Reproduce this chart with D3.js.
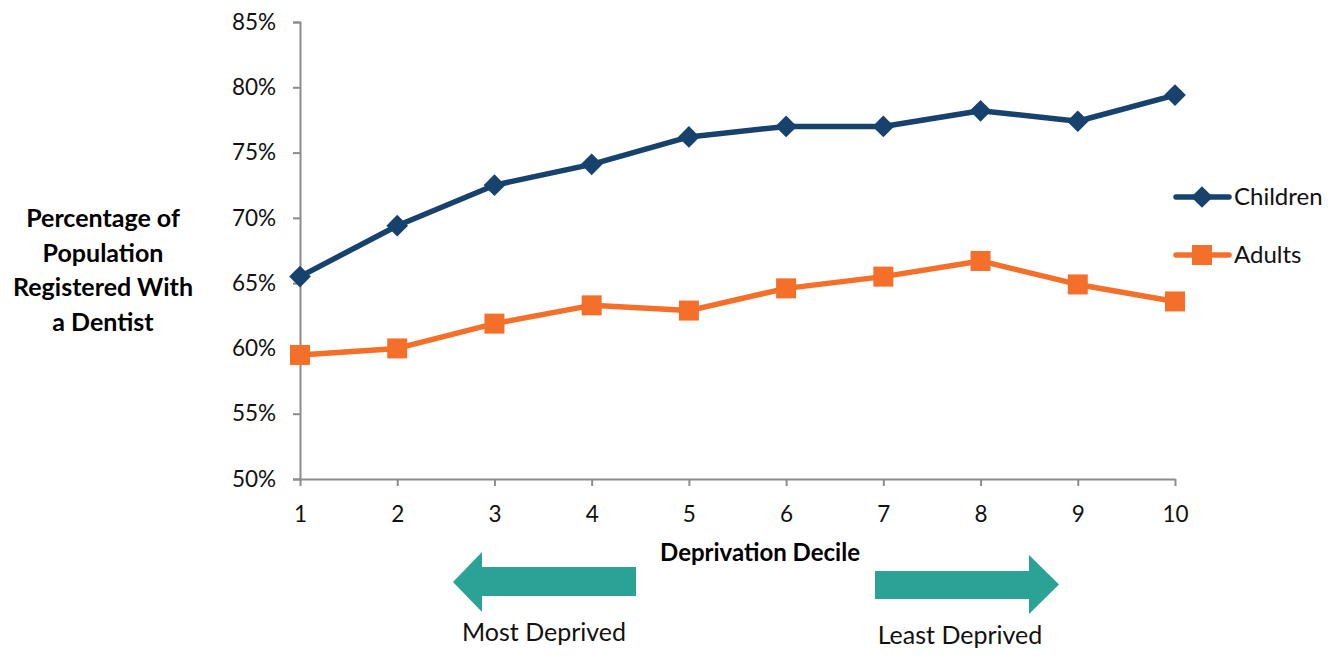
<!DOCTYPE html>
<html><head><meta charset="utf-8">
<script src="https://cdn.jsdelivr.net/npm/d3@7"></script>
<style>body{margin:0;background:#fff}svg{display:block}text{font-family:Lato,"Open Sans",sans-serif}</style>
</head><body><svg id="c" width="1341" height="671"></svg>
<script>
const deciles = [1,2,3,4,5,6,7,8,9,10];
const children = [65.5,69.4,72.5,74.1,76.2,77.0,77.0,78.2,77.4,79.4];
const adults = [59.5,60.0,61.9,63.3,62.9,64.6,65.5,66.7,64.9,63.6];
const yTicks = [50,55,60,65,70,75,80,85];
const seriesNames = ["Children","Adults"];

const svg = d3.select("#c");
const x = d3.scaleLinear().domain([1,10]).range([300,1175]);
const y = d3.scaleLinear().domain([50,85]).range([479,22]);
const axisCol = "#8c8c8c";

const ya = svg.append("g").attr("transform","translate(300,0)")
  .call(d3.axisLeft(y).tickValues(yTicks).tickFormat(d=>d+"%").tickSize(7).tickPadding(22));
ya.select(".domain").attr("stroke",axisCol).attr("stroke-width",2);
ya.selectAll(".tick line").attr("stroke",axisCol).attr("stroke-width",2);
ya.selectAll(".tick text").attr("font-size",22.5).attr("fill","#111").attr("text-anchor","start").attr("x",-68);

const xa = svg.append("g").attr("transform","translate(0,479)")
  .call(d3.axisBottom(x).tickValues(deciles).tickFormat(d3.format("d")).tickSize(7).tickSizeOuter(0).tickPadding(20));
xa.select(".domain").attr("stroke",axisCol).attr("stroke-width",2);
xa.selectAll(".tick line").attr("stroke",axisCol).attr("stroke-width",2);
xa.selectAll(".tick text").attr("font-size",22.5).attr("fill","#111");

svg.append("text").attr("x",760).attr("y",561).attr("text-anchor","middle")
  .attr("font-size",24).attr("font-weight","bold").text("Deprivation Decile");

const yt = svg.append("text").attr("text-anchor","middle").attr("font-size",25).attr("font-weight","bold");
["Percentage of","Population","Registered With","a Dentist"].forEach((t,i)=>{
  yt.append("tspan").attr("x",103).attr("y",227+i*34.7).text(t);
});

const line = d3.line().x((d,i)=>x(deciles[i])).y(d=>y(d));
const cCol = "#17426e", aCol = "#f4702a";
svg.append("path").datum(children).attr("d",line).attr("fill","none").attr("stroke",cCol).attr("stroke-width",5.5).attr("stroke-linejoin","round");
svg.append("path").datum(adults).attr("d",line).attr("fill","none").attr("stroke",aCol).attr("stroke-width",5.5).attr("stroke-linejoin","round");
const diamond = d3.symbol().type(d3.symbolSquare).size(235);
svg.selectAll(".cm").data(children).join("path").attr("d",diamond)
  .attr("transform",(d,i)=>`translate(${x(deciles[i])},${y(d)}) rotate(45)`).attr("fill",cCol);
svg.selectAll(".am").data(adults).join("rect")
  .attr("x",(d,i)=>x(deciles[i])-10).attr("y",d=>y(d)-10).attr("width",20).attr("height",20).attr("fill",aCol);

// legend
const lg = [{n:seriesNames[0],c:cCol,yy:197,m:"d"},{n:seriesNames[1],c:aCol,yy:255,m:"s"}];
lg.forEach(l=>{
  svg.append("line").attr("x1",1176).attr("x2",1229).attr("y1",l.yy).attr("y2",l.yy).attr("stroke",l.c).attr("stroke-width",5.5).attr("stroke-linecap","round");
  if(l.m==="d") svg.append("path").attr("d",diamond).attr("transform",`translate(1202,${l.yy}) rotate(45)`).attr("fill",l.c);
  else svg.append("rect").attr("x",1192).attr("y",l.yy-10).attr("width",20).attr("height",20).attr("fill",l.c);
  svg.append("text").attr("x",1234).attr("y",l.yy+8).attr("font-size",24).attr("fill","#111").text(l.n);
});

// arrows
const teal = "#2aa396";
svg.append("path").attr("d","M453,582 L482,552 L482,567 L636,567 L636,596 L482,596 L482,612 Z").attr("fill",teal);
svg.append("path").attr("d","M875,571 L1029,571 L1029,555 L1059,584.5 L1029,614 L1029,599 L875,599 Z").attr("fill",teal);
svg.append("text").attr("x",544).attr("y",641).attr("text-anchor","middle").attr("font-size",25).attr("fill","#111").attr("font-family","Liberation Sans, Arial").text("Most Deprived");
svg.append("text").attr("x",960).attr("y",644).attr("text-anchor","middle").attr("font-size",25).attr("fill","#111").attr("font-family","Liberation Sans, Arial").text("Least Deprived");
</script></body></html>
